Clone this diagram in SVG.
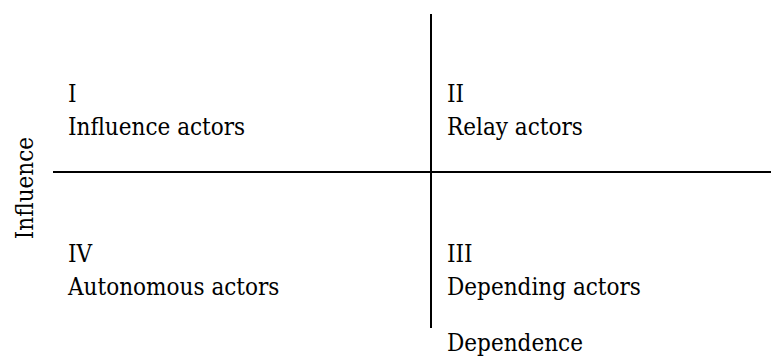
<svg xmlns="http://www.w3.org/2000/svg" width="771" height="358" viewBox="0 0 771 358">
<style>
.t{font-family:"DejaVu Serif Condensed","DejaVu Serif","Liberation Serif",serif;font-stretch:condensed;font-size:24px;fill:#000}
.ax{stroke:#000;stroke-width:2;fill:none}
</style>
<rect width="771" height="358" fill="#fff"/>
<g id="axes">
<line class="ax" x1="431" y1="14" x2="431" y2="328"/>
<line class="ax" x1="53" y1="172" x2="771" y2="172"/>
</g>
<g id="q1"><text class="t" x="68" y="102">I</text><text class="t" x="68" y="135">Influence actors</text></g>
<g id="q2"><text class="t" x="447" y="102">II</text><text class="t" x="447" y="135">Relay actors</text></g>
<g id="q4"><text class="t" x="68" y="262">IV</text><text class="t" x="68" y="295">Autonomous actors</text></g>
<g id="q3"><text class="t" x="447" y="262">III</text><text class="t" x="447" y="295">Depending actors</text></g>
<g id="lbl-influence"><text class="t" transform="translate(33,188) rotate(-90)" text-anchor="middle">Influence</text></g>
<g id="lbl-dependence"><text class="t" x="447" y="351">Dependence</text></g>
</svg>
